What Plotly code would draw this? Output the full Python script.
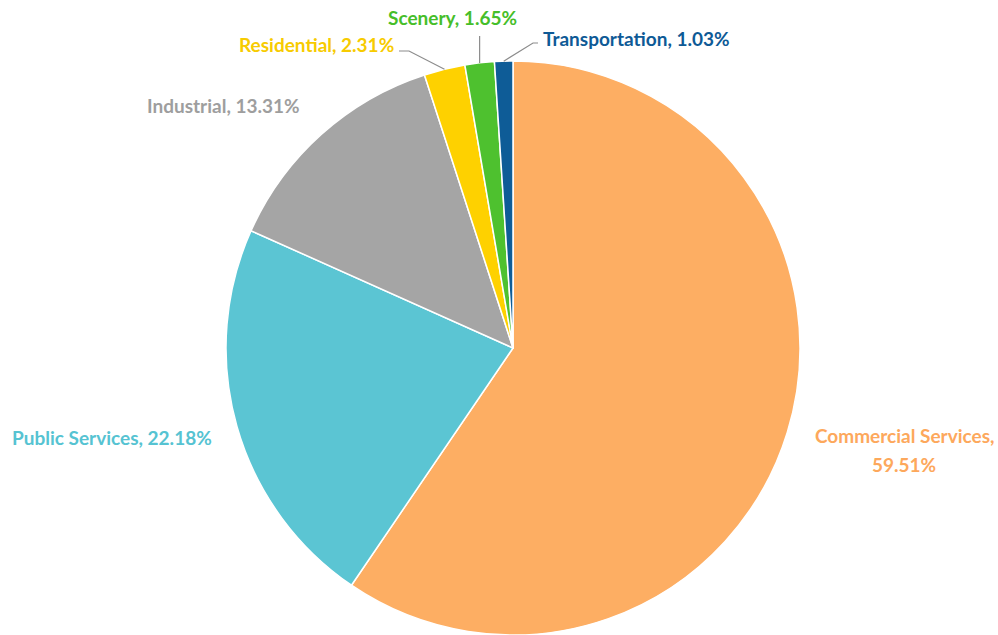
import math
import plotly.graph_objects as go

# Share of consumption by sector (%)
sectors = ["Commercial Services", "Public Services", "Industrial",
           "Residential", "Scenery", "Transportation"]
shares = [59.51, 22.18, 13.31, 2.31, 1.65, 1.03]
colors = ["#FDAE63", "#5BC5D3", "#A5A5A5", "#FED100", "#4EC12F", "#0E5C97"]
text_colors = ["#FDA85C", "#56C3D2", "#9E9E9E", "#F7CB00", "#46BE2A", "#0E5A96"]

W, H = 998, 635
# pie placement in pixels
cx, top_px = 513, 61
bottom_px = H
r = (bottom_px - top_px) / 2
cy = top_px + r

fig = go.Figure(go.Pie(
    labels=sectors,
    values=shares,
    sort=False,
    direction="clockwise",
    rotation=0,
    marker=dict(colors=colors, line=dict(color="white", width=1.5)),
    textinfo="none",
    hoverinfo="label+percent",
    domain=dict(x=[(cx - 300) / W, (cx + 300) / W], y=[0, 1 - top_px / H]),
    showlegend=False,
))

# label anchor positions (pixel centres); the commercial label wraps onto two lines
label_pos = {
    "Commercial Services": [(904, 435), (904, 464)],
    "Public Services": [(112, 437)],
    "Industrial": [(223, 106)],
    "Residential": [(316, 45)],
    "Scenery": [(452, 18)],
    "Transportation": [(636, 39)],
}

def px(x, y):
    return x / W, 1 - y / H

for name, val, tc in zip(sectors, shares, text_colors):
    pos = label_pos[name]
    if len(pos) == 2:
        parts = [f"{name},", f"{val:.2f}%"]
    else:
        parts = [f"{name}, {val:.2f}%"]
    for (x, y), txt in zip(pos, parts):
        ax, ay = px(x, y)
        fig.add_annotation(
            x=ax, y=ay, xref="paper", yref="paper",
            text=txt, showarrow=False, xanchor="center", yanchor="middle",
            font=dict(family="Lato", size=19, color=tc, weight="bold"),
        )

# leader lines for the thin slices, starting at each slice's outer mid-point
total = sum(shares)
cum = 0.0
edge = {}
for name, val in zip(sectors, shares):
    mid = (cum + val / 2) / total * 2 * math.pi
    edge[name] = (cx + r * math.sin(mid), cy - r * math.cos(mid))
    cum += val

leader_paths = {
    "Residential": [(409, 51), (399, 51)],
    "Scenery": [(edge["Scenery"][0], 36)],
    "Transportation": [(533, 43), (538, 43)],
}
for name, pts in leader_paths.items():
    seq = [edge[name]] + pts
    path = ""
    for i, (x, y) in enumerate(seq):
        X, Y = px(x, y)
        path += ("M" if i == 0 else "L") + f"{X},{Y} "
    fig.add_shape(type="path", path=path.strip(), xref="paper", yref="paper",
                  line=dict(color="#8C8C8C", width=1.2))

fig.update_layout(
    width=W, height=H,
    margin=dict(l=0, r=0, t=0, b=0),
    paper_bgcolor="white", plot_bgcolor="white",
)

fig.write_html("out.html")
